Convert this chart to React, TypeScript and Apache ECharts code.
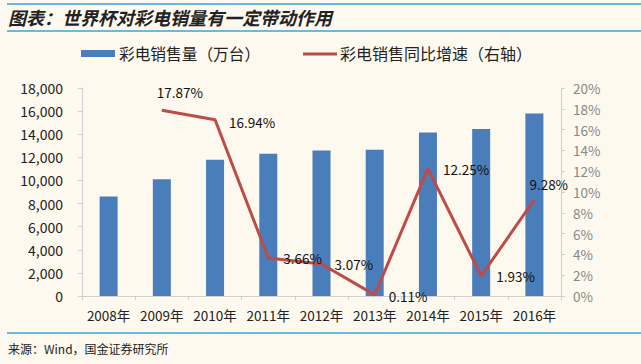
import React, { useEffect, useRef } from "react";
import * as echarts from "echarts";

const categories = ["2008年", "2009年", "2010年", "2011年", "2012年", "2013年", "2014年", "2015年", "2016年"];
const salesVolume = [8600, 10100, 11800, 12300, 12600, 12650, 14150, 14450, 15800];
const growthRate: (number | null)[] = [null, 17.87, 16.94, 3.66, 3.07, 0.11, 12.25, 1.93, 9.28];
const labelPos: [number, number][] = [
  [0, 0], [-5, -18], [14, 2], [15, 0], [13, 0], [14, 1], [15, 0], [15, 0], [-5, -15],
];
const leftTicks = [0, 2000, 4000, 6000, 8000, 10000, 12000, 14000, 16000, 18000];
const rightTicks = [0, 2, 4, 6, 8, 10, 12, 14, 16, 18, 20];

const titleText = "图表：世界杯对彩电销量有一定带动作用";
const sourceText = "来源：Wind，国金证券研究所";
const barName = "彩电销售量（万台）";
const lineName = "彩电销售同比增速（右轴）";

const FONT = "'Noto Sans CJK SC', 'Noto Sans', sans-serif";

export default function App() {
  const ref = useRef<HTMLDivElement>(null);
  useEffect(() => {
    document.body.style.margin = "0";
    const chart = echarts.init(ref.current!, null, { renderer: "svg" });
    const lineData = growthRate.map((v, i) =>
      v === null
        ? null
        : {
            value: v,
            label: {
              show: true,
              position: labelPos[i],
              align: "left",
              verticalAlign: "middle",
              formatter: (p: any) => Number(p.value).toFixed(2) + "%",
              color: "#111",
              fontSize: 13.5,
              fontFamily: FONT,
            },
          }
    );
    chart.setOption({
      animation: false,
      backgroundColor: "#FDF9EE",
      textStyle: { fontFamily: FONT },
      grid: { left: 82, right: 80, top: 88, bottom: 68 },
      legend: { show: false },
      graphic: [
        { type: "line", shape: { x1: 7, y1: 4, x2: 641, y2: 4 }, style: { stroke: "#3AA3D6", lineWidth: 1.5 } },
        { type: "line", shape: { x1: 7, y1: 31, x2: 641, y2: 31 }, style: { stroke: "#3AA3D6", lineWidth: 1.5 } },
        {
          type: "text", x: 8, y: 17,
          style: { text: titleText, fontSize: 18, fontWeight: "bold", fontStyle: "italic", fill: "#222", fontFamily: FONT, verticalAlign: "middle" },
        },
        { type: "rect", shape: { x: 81, y: 50, width: 34, height: 7 }, style: { fill: "#4A7EBB" } },
        {
          type: "text", x: 119, y: 53,
          style: { text: barName, fontSize: 15.7, fill: "#222", fontFamily: FONT, verticalAlign: "middle" },
        },
        { type: "line", shape: { x1: 303, y1: 54, x2: 337, y2: 54 }, style: { stroke: "#BE4B48", lineWidth: 3 } },
        {
          type: "text", x: 340, y: 53,
          style: { text: lineName, fontSize: 16, fill: "#222", fontFamily: FONT, verticalAlign: "middle" },
        },
        { type: "line", shape: { x1: 7, y1: 333, x2: 641, y2: 333 }, style: { stroke: "#3AA3D6", lineWidth: 1.5 } },
        {
          type: "text", x: 8, y: 348,
          style: { text: sourceText, fontSize: 12, fill: "#222", fontFamily: FONT, verticalAlign: "middle" },
        },
      ],
      xAxis: {
        type: "category",
        data: categories,
        axisLine: { lineStyle: { color: "#D0D0D0" } },
        axisTick: { show: true, alignWithLabel: false, lineStyle: { color: "#D0D0D0" }, length: 4 },
        axisLabel: { color: "#222", fontSize: 13.5, margin: 12, fontFamily: FONT, interval: 0 },
      },
      yAxis: [
        {
          type: "value",
          min: leftTicks[0],
          max: leftTicks[leftTicks.length - 1],
          interval: 2000,
          axisLine: { show: true, lineStyle: { color: "#D0D0D0" } },
          axisTick: { show: true, lineStyle: { color: "#D0D0D0" }, length: 4 },
          splitLine: { show: false },
          axisLabel: {
            color: "#222", fontSize: 14, margin: 19, fontFamily: FONT,
            formatter: (v: number) => v.toLocaleString("en-US"),
          },
        },
        {
          type: "value",
          min: rightTicks[0],
          max: rightTicks[rightTicks.length - 1],
          interval: 2,
          position: "right",
          axisLine: { show: true, lineStyle: { color: "#D0D0D0" } },
          axisTick: { show: true, lineStyle: { color: "#D0D0D0" }, length: 4 },
          splitLine: { show: false },
          axisLabel: { color: "#888", fontSize: 13.5, margin: 12, fontFamily: FONT, formatter: (v: number) => v + "%" },
        },
      ],
      series: [
        {
          name: barName,
          type: "bar",
          data: salesVolume,
          barWidth: 18,
          itemStyle: { color: "#4A7EBB" },
        },
        {
          name: lineName,
          type: "line",
          yAxisIndex: 1,
          data: lineData,
          symbol: "circle",
          symbolSize: 0,
          showSymbol: true,
          lineStyle: { color: "#BE4B48", width: 3 },
          itemStyle: { color: "#BE4B48" },
          connectNulls: false,
          labelLayout: { hideOverlap: false },
        },
      ],
    });
    return () => chart.dispose();
  }, []);
  return <div ref={ref} style={{ position: "absolute", left: 0, top: 0, width: 641, height: 364 }} />;
}
